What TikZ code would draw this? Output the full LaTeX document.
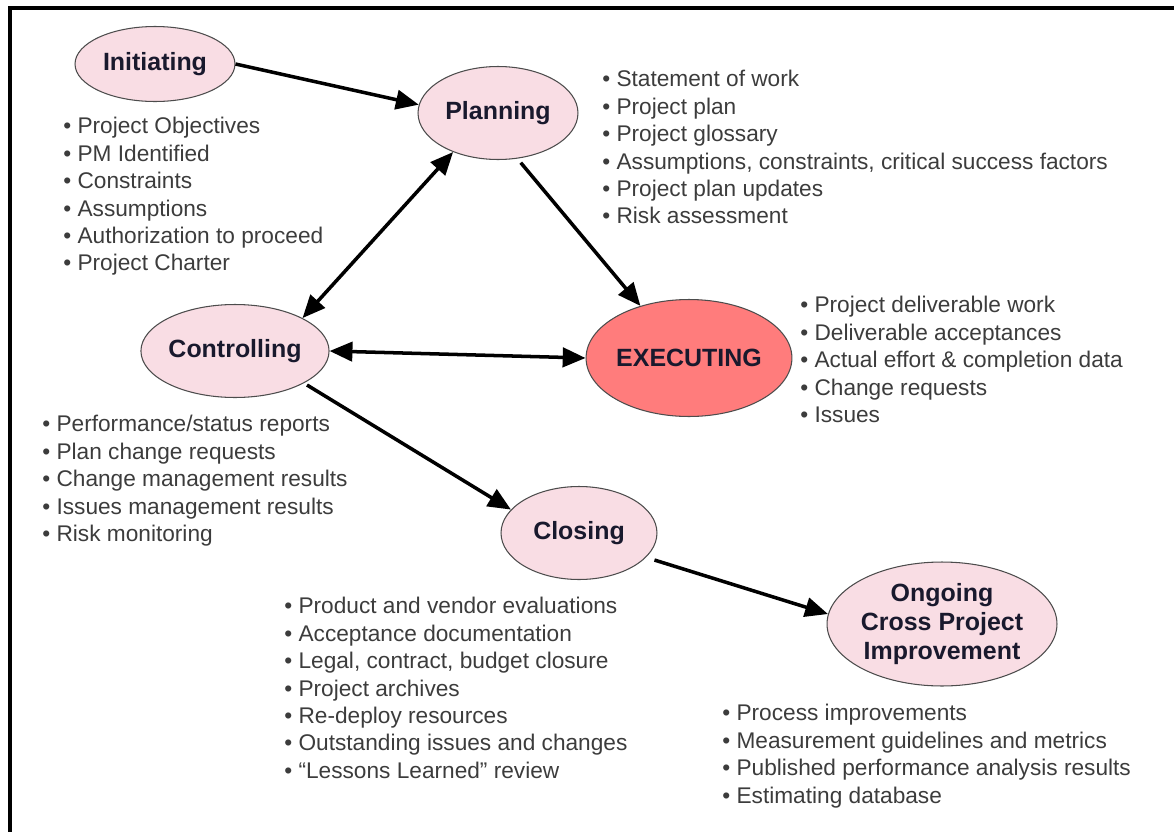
\documentclass[tikz,border=0pt]{standalone}
\usepackage{fontspec}
\setmainfont{Liberation Sans}
\usepackage{xcolor}
\usepackage{tikz}
\usetikzlibrary{shapes.geometric, arrows.meta}

\definecolor{phasepink}{RGB}{249,221,228}
\definecolor{execred}{RGB}{255,124,124}
\definecolor{itemgray}{RGB}{60,60,60}
\definecolor{labelink}{RGB}{25,25,45}

\begin{document}
\begin{tikzpicture}[
    x=0.02cm, y=-0.02cm,
    phase/.style={ellipse, draw=gray!60!black, line width=0.6pt, fill=#1, inner sep=0pt, font=\fontsize{14.2}{16.5}\selectfont\bfseries, text=labelink, align=center},
    phase/.default=phasepink,
    items/.style={anchor=north west, inner sep=0pt, align=left, font=\fontsize{12.9}{15.6}\selectfont, text=itemgray},
    arrow/.style={-{Triangle[length=13pt, width=11pt]}, line width=2pt},
    twoway/.style={{Triangle[length=13pt, width=11pt]}-{Triangle[length=13pt, width=11pt]}, line width=2pt}
]
\useasboundingbox (0,0) rectangle (1174,832);

% ---- Frame ----
\draw[line width=1.8pt] (10,832) -- (10,8) -- (1174,8);

% ---- Phases ----
\node[phase, minimum width=3.2cm, minimum height=1.5cm] (init) at (155,64) {Initiating};
\node[phase, minimum width=3.2cm, minimum height=1.86cm] (plan) at (498,113) {Planning};
\node[phase, minimum width=3.2cm, minimum height=1.86cm] (ctrl) at (235,351) {Controlling};
\node[phase=execred, minimum width=3.88cm, minimum height=2.34cm] (exec) at (689,358) {EXECUTING};
\node[phase, minimum width=3.12cm, minimum height=1.86cm] (close) at (579,533) {Closing};
\node[phase, minimum width=4.6cm, minimum height=2.48cm] (ongo) at (942,624) {Ongoing\\Cross Project\\Improvement};

% ---- Phase outputs ----
\node[items] (initlist) at (63,117) {\textbullet\ Project Objectives\\\textbullet\ PM Identified\\\textbullet\ Constraints\\\textbullet\ Assumptions\\\textbullet\ Authorization to proceed\\\textbullet\ Project Charter};
\node[items] (planlist) at (602,70) {\textbullet\ Statement of work\\\textbullet\ Project plan\\\textbullet\ Project glossary\\\textbullet\ Assumptions, constraints, critical success factors\\\textbullet\ Project plan updates\\\textbullet\ Risk assessment};
\node[items] (ctrllist) at (42,415) {\textbullet\ Performance/status reports\\\textbullet\ Plan change requests\\\textbullet\ Change management results\\\textbullet\ Issues management results\\\textbullet\ Risk monitoring};
\node[items] (execlist) at (800,296) {\textbullet\ Project deliverable work\\\textbullet\ Deliverable acceptances\\\textbullet\ Actual effort \& completion data\\\textbullet\ Change requests\\\textbullet\ Issues};
\node[items] (closelist) at (284,597) {\textbullet\ Product and vendor evaluations\\\textbullet\ Acceptance documentation\\\textbullet\ Legal, contract, budget closure\\\textbullet\ Project archives\\\textbullet\ Re-deploy resources\\\textbullet\ Outstanding issues and changes\\\textbullet\ “Lessons Learned” review};
\node[items] (ongolist) at (722,704) {\textbullet\ Process improvements\\\textbullet\ Measurement guidelines and metrics\\\textbullet\ Published performance analysis results\\\textbullet\ Estimating database};

% ---- Connecting arrows ----
\draw[arrow] (init.east) -- (plan.174);
\draw[twoway] (plan.221) -- (ctrl.26);
\draw[arrow, shorten <=3pt] (plan.293) -- (exec.133);
\draw[twoway] (ctrl.east) -- (exec.west);
\draw[arrow, shorten <=2pt] (ctrl.335) -- (close.161);
\draw[arrow, shorten <=5pt] (close.340) -- (ongo.175);

\end{tikzpicture}
\end{document}
